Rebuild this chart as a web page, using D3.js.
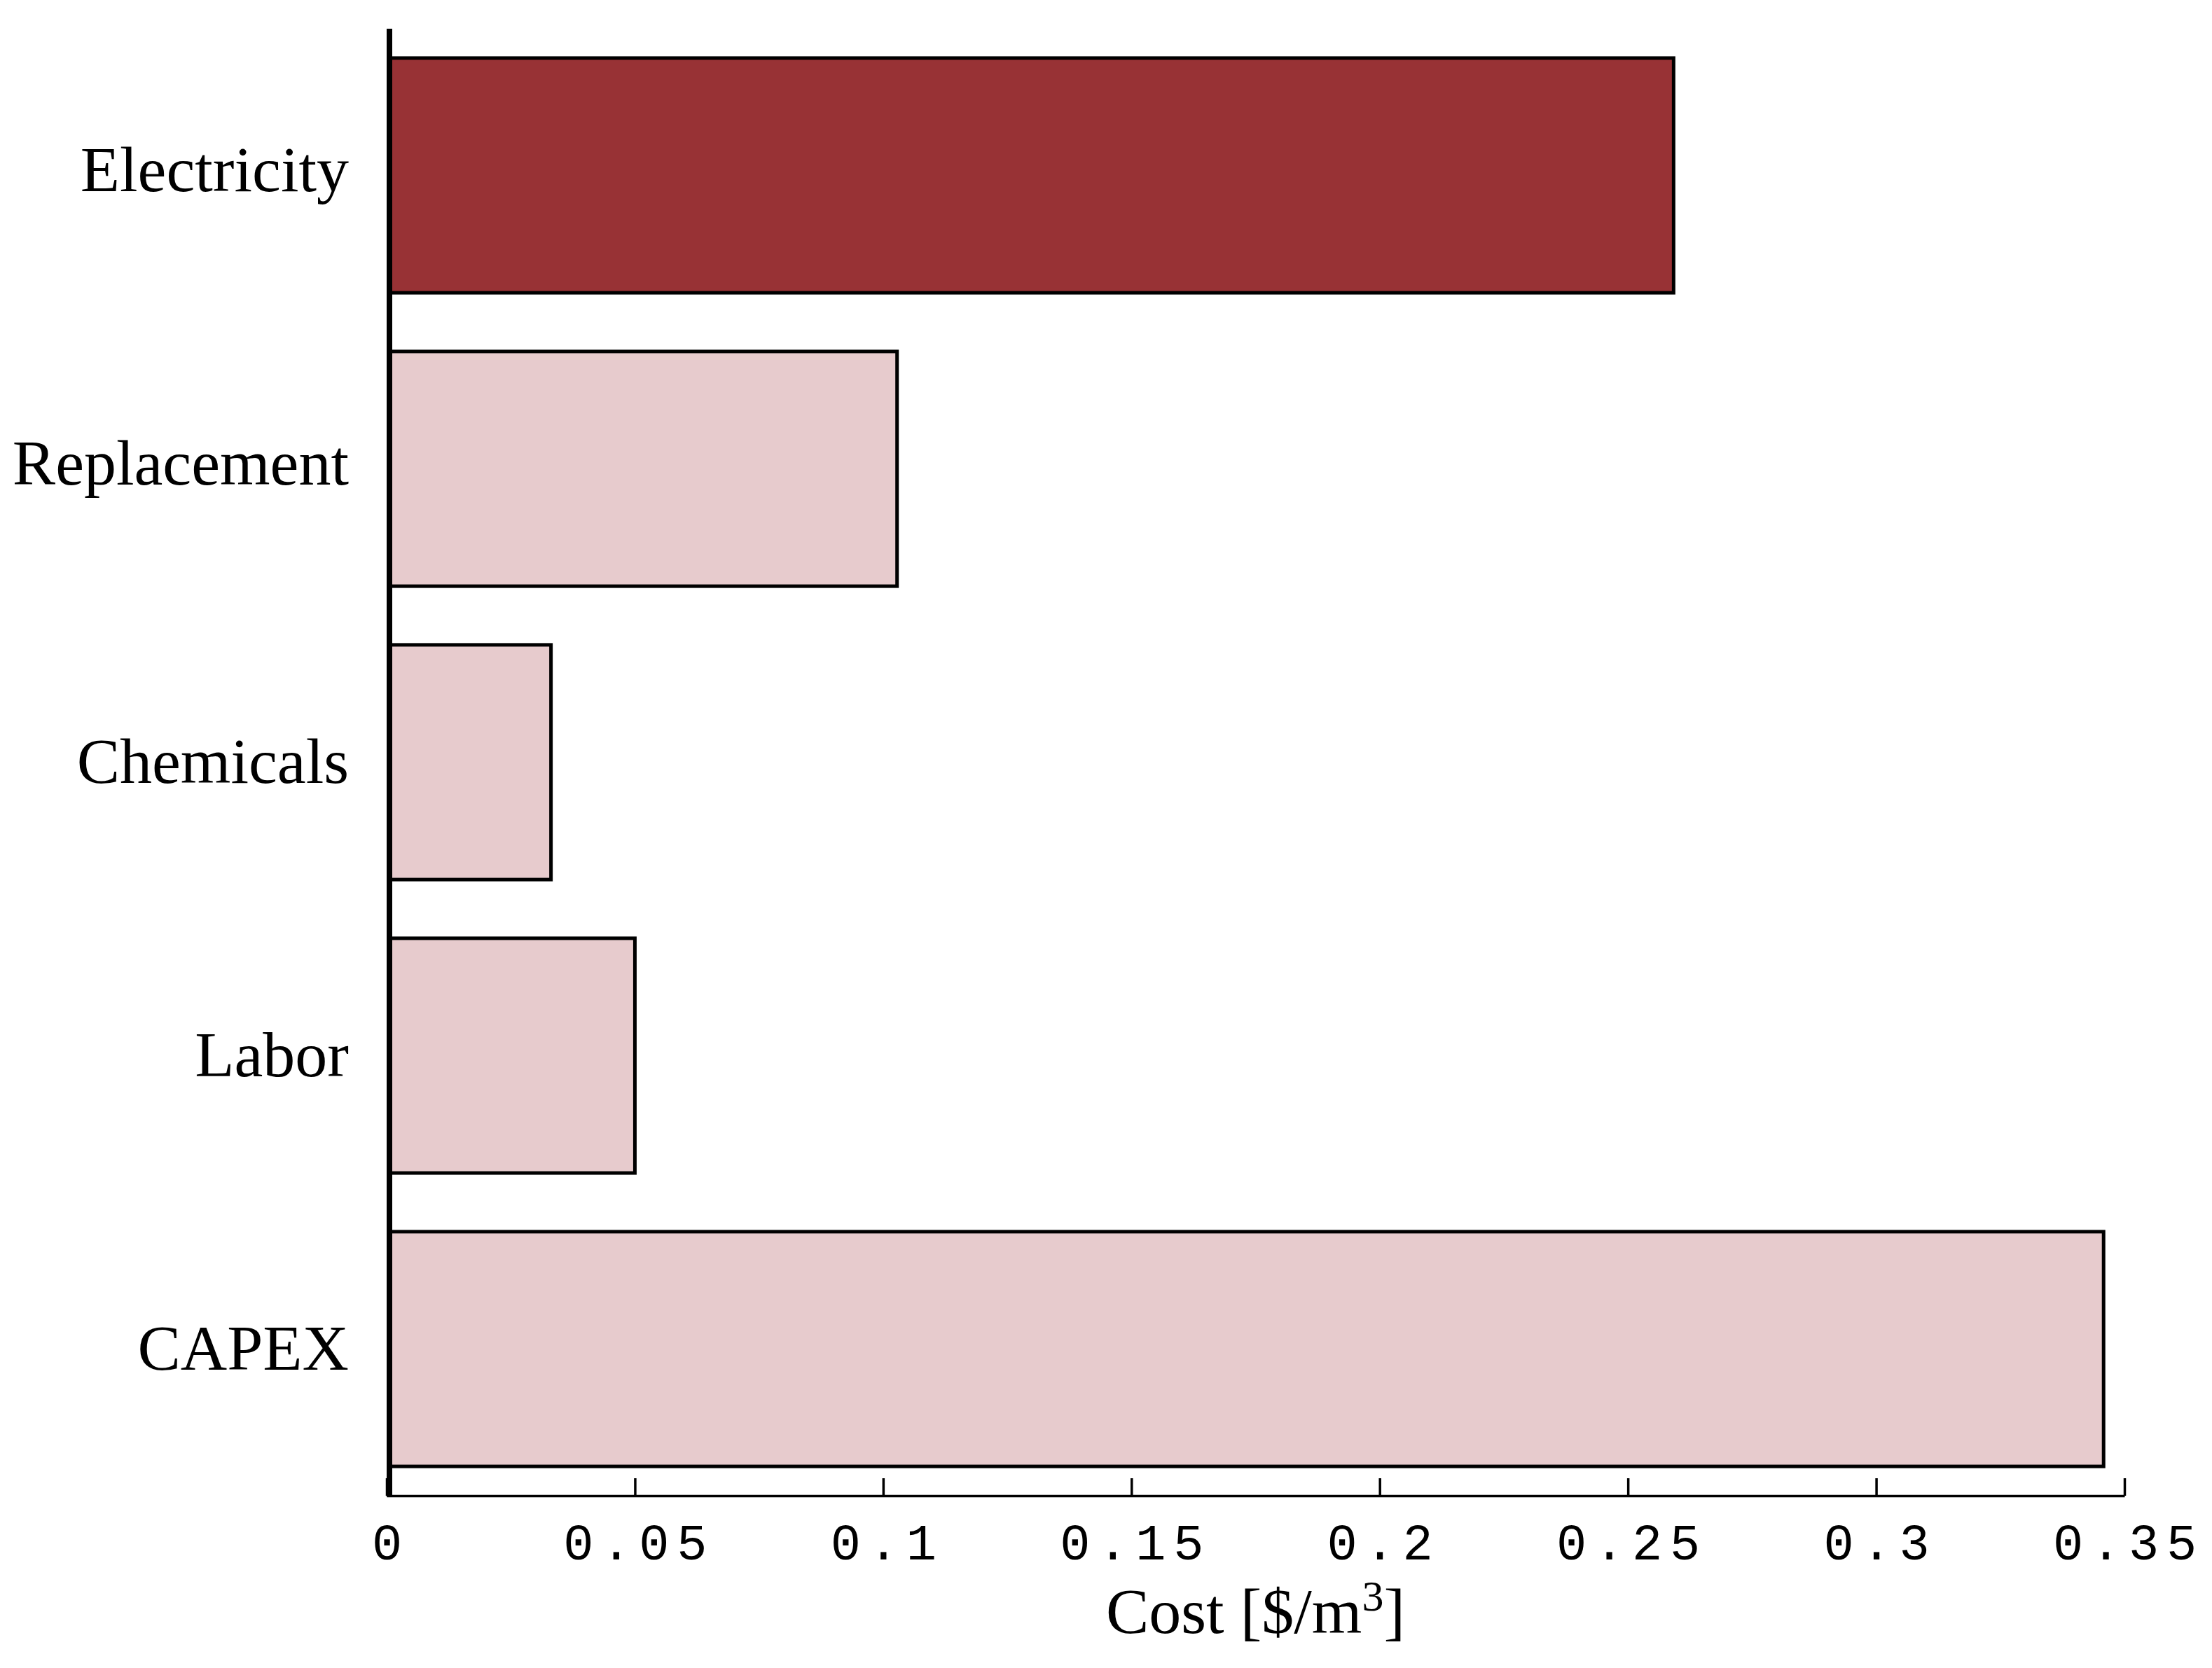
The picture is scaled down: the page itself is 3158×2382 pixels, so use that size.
<!DOCTYPE html>
<html>
<head>
<meta charset="utf-8">
<script src="https://cdn.jsdelivr.net/npm/d3@7"></script>
<style>
  html, body { margin: 0; padding: 0; background: #ffffff; }
  svg { display: block; }
</style>
</head>
<body>
<script>
// ---- data ----
const categories = ["Electricity", "Replacement", "Chemicals", "Labor", "CAPEX"];
const costs = [0.2592, 0.1028, 0.0331, 0.0500, 0.3458];
const highlighted = ["Electricity"];
const xTicks = [0, 0.05, 0.1, 0.15, 0.2, 0.25, 0.3, 0.35];
const xTickLabels = ["0", "0.05", "0.1", "0.15", "0.2", "0.25", "0.3", "0.35"];
const xTitle = "Cost [$/m";
const xTitleSup = "3";

// ---- layout ----
const W = 3158, H = 2382;
const serif = "'Liberation Serif', 'Times New Roman', serif";
const mono = "'Liberation Mono', 'Courier New', monospace";
const axisW = 8;

const svg = d3.select("body").append("svg")
  .attr("width", W).attr("height", H)
  .attr("viewBox", `0 0 ${W} ${H}`);

const x = d3.scaleLinear().domain([0, 0.35]).range([552, 3033]);
const y = d3.scaleBand().domain(categories).range([41, 2136])
  .paddingInner(0.2).paddingOuter(0.1);
const axisX = x(0) + axisW / 2;

// bars (left edge tucked under the thick y axis)
svg.append("g").selectAll("rect")
  .data(categories.map((c, i) => ({ c, v: costs[i] })))
  .join("rect")
  .attr("x", axisX)
  .attr("y", d => y(d.c))
  .attr("width", d => x(d.v) - axisX)
  .attr("height", y.bandwidth())
  .attr("fill", d => highlighted.includes(d.c) ? "#983235" : "#e7cbcd")
  .attr("stroke", "#000")
  .attr("stroke-width", 5);

// x axis
const xAxis = d3.axisBottom(x)
  .tickValues(xTicks)
  .tickFormat((d, i) => xTickLabels[i])
  .tickSizeInner(-25)
  .tickSizeOuter(0);

const gx = svg.append("g")
  .attr("transform", `translate(0, ${y.range()[1]})`)
  .call(xAxis);
gx.select(".domain").attr("stroke", "#000").attr("stroke-width", 3.5);
gx.selectAll(".tick line").attr("stroke", "#000").attr("stroke-width", 3.5);
const ls = 10.8;
gx.selectAll(".tick text")
  .attr("y", 91)
  .attr("dy", 0)
  .attr("dx", ls / 2)
  .attr("fill", "#000")
  .style("font-family", mono)
  .style("font-size", "72px")
  .style("letter-spacing", ls + "px");

// y axis
const yAxis = d3.axisLeft(y).tickSize(0).tickSizeOuter(0).tickPadding(58);
const gy = svg.append("g")
  .attr("transform", `translate(${axisX}, 0)`)
  .call(yAxis);
gy.select(".domain")
  .attr("d", `M0,${y.range()[0]}V${y.range()[1] + 1.5}`)
  .attr("stroke", "#000").attr("stroke-width", axisW);
gy.selectAll(".tick text")
  .attr("fill", "#000")
  .attr("dy", 0)
  .attr("y", d => /[gjpqy]/.test(d) ? 22 : 29)
  .style("font-family", serif)
  .style("font-size", "92px");

// x axis title
const t = svg.append("text")
  .attr("x", (x.range()[0] + x.range()[1]) / 2)
  .attr("y", 2332)
  .attr("text-anchor", "middle")
  .attr("fill", "#000")
  .style("font-family", serif)
  .style("font-size", "92px");
t.append("tspan").text(xTitle);
t.append("tspan").attr("dy", -32).style("font-size", "62px").text(xTitleSup);
t.append("tspan").attr("dy", 32).text("]");
</script>
</body>
</html>
